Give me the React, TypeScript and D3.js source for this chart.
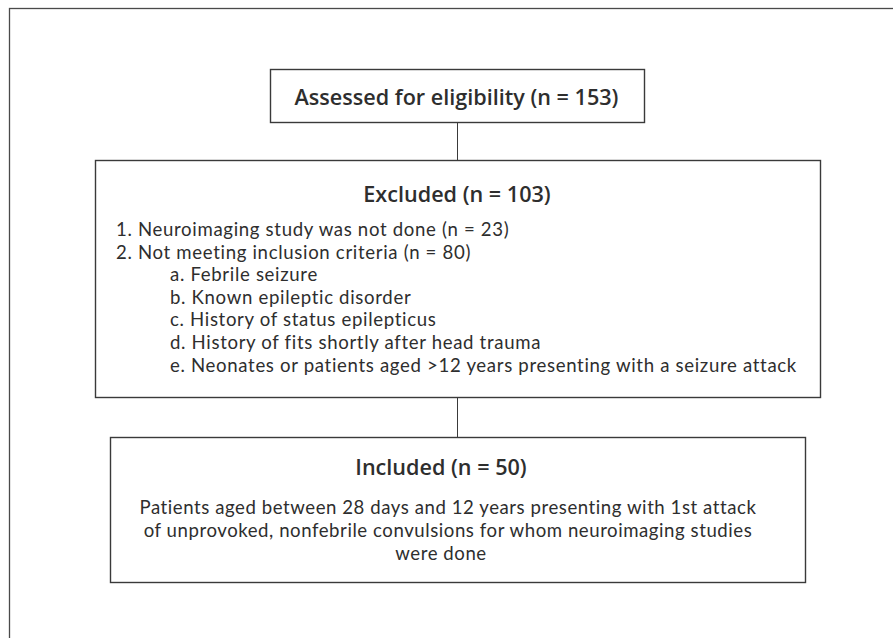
import { useEffect, useRef } from "react";
import * as d3 from "d3";

// box contents
const assessedTitle = "Assessed for eligibility (n = 153)";
const excludedTitle = "Excluded (n = 103)";
const excludedReasons = [
  "1. Neuroimaging study was not done (n = 23)",
  "2. Not meeting inclusion criteria (n = 80)",
];
const excludedSubReasons = [
  "a. Febrile seizure",
  "b. Known epileptic disorder",
  "c. History of status epilepticus",
  "d. History of fits shortly after head trauma",
  "e. Neonates or patients aged >12 years presenting with a seizure attack",
];
const includedTitle = "Included (n = 50)";
const includedText = [
  "Patients aged between 28 days and 12 years presenting with 1st attack",
  "of unprovoked, nonfebrile convulsions for whom neuroimaging studies",
  "were done",
];

const W = 893;
const H = 638;
const TITLE_FONT = "'Open Sans', 'Noto Sans', sans-serif";
const BODY_FONT = "Lato, 'Open Sans', sans-serif";
const INK = "#2e2e2e";
const LINE = "#3a3a3a";
const BODY_SIZE = 18.6;
const TITLE_SIZE = 21.6;

export default function App() {
  const svgRef = useRef<SVGSVGElement | null>(null);

  useEffect(() => {
    document.body.style.margin = "0";
    const svg = d3.select(svgRef.current);
    svg.selectAll("*").remove();
    svg.attr("width", W).attr("height", H);

    svg.append("rect").attr("width", W).attr("height", H).attr("fill", "#fff");

    // outer frame (runs off right/bottom edges)
    svg.append("rect")
      .attr("x", 9.5).attr("y", 8.5)
      .attr("width", W + 10).attr("height", H + 10)
      .attr("fill", "none").attr("stroke", "#4a4a4a").attr("stroke-width", 1.3);

    const cx = 457.5;

    const box = (x0: number, y0: number, x1: number, y1: number) =>
      svg.append("rect")
        .attr("x", x0).attr("y", y0)
        .attr("width", x1 - x0).attr("height", y1 - y0)
        .attr("fill", "none").attr("stroke", LINE).attr("stroke-width", 1.4);

    const link = (y0: number, y1: number) =>
      svg.append("line")
        .attr("x1", cx).attr("x2", cx).attr("y1", y0).attr("y2", y1)
        .attr("stroke", LINE).attr("stroke-width", 1);

    const title = (s: string, x: number, y: number) =>
      svg.append("text")
        .attr("x", x).attr("y", y)
        .attr("font-family", TITLE_FONT)
        .attr("font-size", TITLE_SIZE)
        .attr("font-weight", 600)
        .attr("text-anchor", "middle")
        .attr("fill", INK)
        .text(s);

    // multi-line block; letter-spacing is tuned so line `fitIdx` spans `fitW` px
    type Line = { s: string; x: number };
    const block = (lines: Line[], y: number, lineH: number, anchor: string, fitIdx: number, fitW: number) => {
      const sel = svg.selectAll(null)
        .data(lines)
        .join("text")
        .attr("x", (d) => d.x)
        .attr("y", (_, i) => y + i * lineH)
        .attr("font-family", BODY_FONT)
        .attr("font-size", BODY_SIZE)
        .attr("text-anchor", anchor)
        .attr("fill", INK)
        .text((d) => d.s);
      const node = sel.nodes()[fitIdx] as SVGTextElement;
      const natural = node.getComputedTextLength();
      const ls = (fitW - natural) / lines[fitIdx].s.length;
      sel.attr("letter-spacing", ls.toFixed(3));
    };

    // boxes and connectors
    box(270.5, 69.5, 644.5, 122.5);
    link(122.5, 160.5);
    box(95.5, 160.5, 820.5, 397.5);
    link(397.5, 437.5);
    box(110.5, 437.5, 805.5, 582.5);

    // assessed
    title(assessedTitle, 456.5, 105);

    // excluded
    title(excludedTitle, 457, 202);
    block(
      [
        ...excludedReasons.map((s) => ({ s, x: 116 })),
        ...excludedSubReasons.map((s) => ({ s, x: 170 })),
      ],
      236, 22.6, "start", 6, 627
    );

    // included
    title(includedTitle, 441, 475);
    const bodyCenters = [448, 448, 441];
    block(includedText.map((s, i) => ({ s, x: bodyCenters[i] })), 514, 23, "middle", 0, 617);
  }, []);

  return <svg ref={svgRef} style={{ display: "block" }} />;
}
